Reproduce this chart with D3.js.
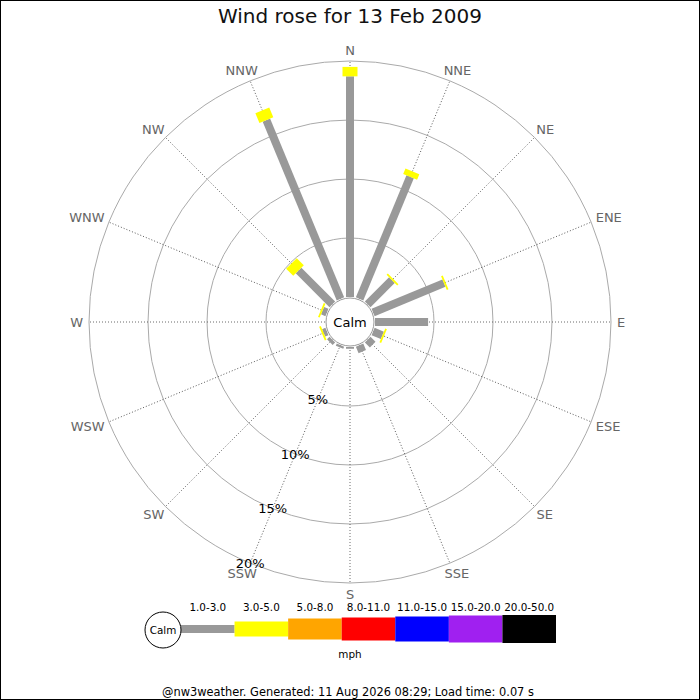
<!DOCTYPE html>
<html>
<head>
<meta charset="utf-8">
<script src="https://cdn.jsdelivr.net/npm/d3@7"></script>
<style>
  body { margin: 0; background: #fff; }
  svg { display: block; font-family: 'DejaVu Sans', sans-serif; }
</style>
</head>
<body>
<svg id="chart"></svg>
<script>
// Wind directions, clockwise from north
const directions = ['N', 'NNE', 'NE', 'ENE', 'E', 'ESE', 'SE', 'SSE',
  'S', 'SSW', 'SW', 'WSW', 'W', 'WNW', 'NW', 'NNW'];

// Percent of time per direction for each speed band (mph)
const pct1to3 = [18.7, 11.2, 2.9, 6.5, 4.5, 0.85, 0.6, 0.6,
  0.15, 0.2, 0.3, 0.3, 0, 0.4, 4.05, 16.4];
const pct3to5 = [0.8, 0.5, 0.15, 0.15, 0, 0.15, 0, 0,
  0, 0, 0, 0.15, 0, 0.15, 0.85, 0.9];

const speedBands = ['1.0-3.0', '3.0-5.0', '5.0-8.0', '8.0-11.0', '11.0-15.0', '15.0-20.0', '20.0-50.0'];
const ringTicks = [5, 10, 15, 20];

const title = 'Wind rose for 13 Feb 2009';
const footer = '@nw3weather. Generated: 11 Aug 2026 08:29; Load time: 0.07 s';

// styling per band
const bandColors = ['#999999', '#ffff00', '#ffa500', '#ff0000', '#0000ff', '#a020f0', '#000000'];
const bandWidths = [8, 15, 21, 23, 25, 27, 28];

const W = 700, H = 700;
const cx = 350, cy = 322;

const svg = d3.select('#chart')
  .attr('width', W)
  .attr('height', H);

svg.append('rect')
  .attr('x', 0.5).attr('y', 0.5)
  .attr('width', W - 1).attr('height', H - 1)
  .style('fill', '#fff')
  .style('stroke', '#000');

svg.append('text')
  .attr('x', W / 2)
  .attr('y', 15.5)
  .attr('dy', '.35em')
  .style('text-anchor', 'middle')
  .style('font-size', '20px')
  .style('fill', '#111')
  .text(title);

// radial scale: percent -> pixels
const r = d3.scaleLinear().domain([0, 20]).range([25, 261]);
const angle = d3.scalePoint().domain(directions).range([0, 337.5]);
const rad = d => angle(d) * Math.PI / 180;

const g = svg.append('g')
  .attr('transform', `translate(${cx},${cy})`);

// rings
g.selectAll('.ring')
  .data(ringTicks)
  .enter().append('circle')
  .attr('class', 'ring')
  .attr('r', d => r(d))
  .style('fill', 'none')
  .style('stroke', '#aaa')
  .style('stroke-width', 1);

// spokes
g.selectAll('.spoke')
  .data(directions)
  .enter().append('line')
  .attr('class', 'spoke')
  .attr('transform', d => `rotate(${angle(d)})`)
  .attr('x1', 0).attr('y1', -r(0))
  .attr('x2', 0).attr('y2', -r(20))
  .style('stroke', '#444')
  .style('stroke-width', 0.8)
  .style('stroke-dasharray', '1,2');

// direction labels, pushed outward from the outer ring by their own size
const rOut = r(20);
g.selectAll('.dir')
  .data(directions)
  .enter().append('text')
  .attr('class', 'dir')
  .attr('dy', '.35em')
  .style('text-anchor', 'middle')
  .style('font-size', '13px')
  .style('fill', '#666')
  .text(d => d)
  .each(function (d) {
    const w = this.getComputedTextLength();
    const s = Math.sin(rad(d)), c = Math.cos(rad(d));
    d3.select(this)
      .attr('x', rOut * s + s * (w / 2 + 6))
      .attr('y', -rOut * c - c * 11);
  });

// stacked bars
const series = [pct1to3, pct3to5];
directions.forEach((dir, i) => {
  let start = 0;
  series.forEach((s, b) => {
    const v = s[i];
    if (v <= 0) return;
    const end = start + v;
    g.append('rect')
      .attr('transform', `rotate(${angle(dir)})`)
      .attr('x', -bandWidths[b] / 2)
      .attr('y', -r(end))
      .attr('width', bandWidths[b])
      .attr('height', r(end) - r(start))
      .style('fill', bandColors[b]);
    start = end;
  });
});

// calm circle
g.append('circle')
  .attr('r', 24)
  .style('fill', '#fff')
  .style('stroke', '#999')
  .style('stroke-width', 1);
g.append('text')
  .attr('y', 0)
  .attr('dy', '.35em')
  .style('text-anchor', 'middle')
  .style('font-size', '13px')
  .style('fill', '#000')
  .text('Calm');

// percent labels along SSW
g.selectAll('.pct')
  .data(ringTicks)
  .enter().append('text')
  .attr('class', 'pct')
  .attr('x', d => r(d) * Math.sin(rad('SSW')))
  .attr('y', d => -r(d) * Math.cos(rad('SSW')))
  .attr('dy', '.35em')
  .style('text-anchor', 'middle')
  .style('font-size', '13px')
  .style('fill', '#000')
  .text(d => d + '%');

// legend
const lx = d3.scaleBand().domain(speedBands).range([181, 556]);
const ly = 629;
const legend = svg.append('g');

legend.selectAll('.lbar')
  .data(speedBands)
  .enter().append('rect')
  .attr('class', 'lbar')
  .attr('x', d => lx(d))
  .attr('y', (d, i) => ly - bandWidths[i] / 2)
  .attr('width', lx.bandwidth())
  .attr('height', (d, i) => bandWidths[i])
  .style('fill', (d, i) => bandColors[i]);

legend.selectAll('.llab')
  .data(speedBands)
  .enter().append('text')
  .attr('class', 'llab')
  .attr('x', d => lx(d) + lx.bandwidth() / 2)
  .attr('y', 607)
  .attr('dy', '.35em')
  .style('text-anchor', 'middle')
  .style('font-size', '10.4px')
  .style('fill', '#000')
  .text(d => d);

legend.append('circle')
  .attr('cx', 163).attr('cy', 630)
  .attr('r', 18)
  .style('fill', '#fff')
  .style('stroke', '#000');
legend.append('text')
  .attr('x', 163).attr('y', 630)
  .attr('dy', '.35em')
  .style('text-anchor', 'middle')
  .style('font-size', '10.4px')
  .text('Calm');

legend.append('text')
  .attr('x', 350).attr('y', 654)
  .attr('dy', '.35em')
  .style('text-anchor', 'middle')
  .style('font-size', '10.4px')
  .text('mph');

svg.append('text')
  .attr('x', 348).attr('y', 692)
  .attr('dy', '.35em')
  .style('text-anchor', 'middle')
  .style('font-size', '11.4px')
  .style('fill', '#000')
  .text(footer);
</script>
</body>
</html>
